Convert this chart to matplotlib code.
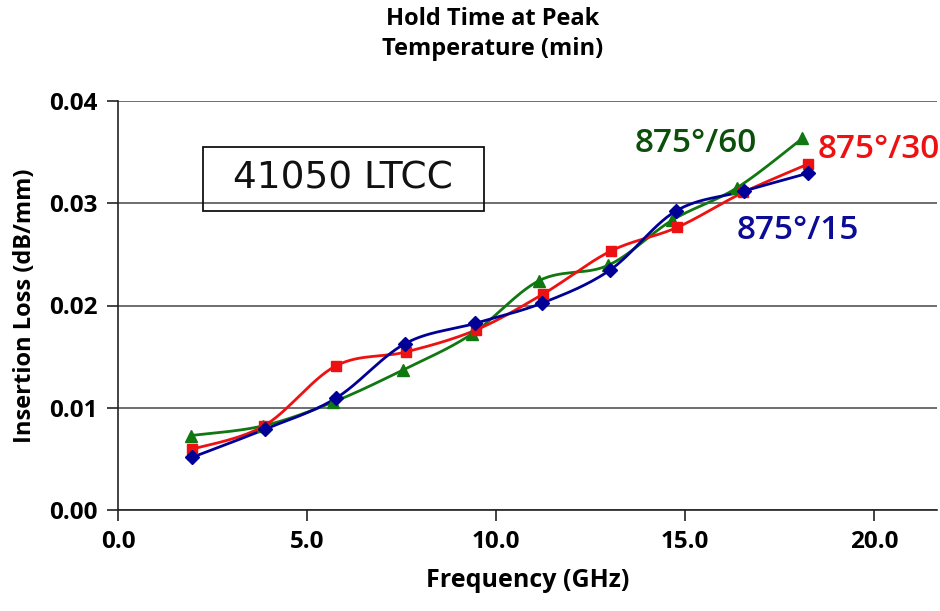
import numpy as np
import matplotlib
matplotlib.use("Agg")
import matplotlib.pyplot as plt
from matplotlib.patches import Rectangle

# ---- data ----
freq_15 = [1.94, 3.87, 5.75, 7.59, 9.44, 11.22, 13.01, 14.75, 16.55, 18.24]
loss_15 = [0.0051, 0.00786, 0.0109, 0.01627, 0.01825, 0.02025, 0.02348, 0.02926, 0.03122, 0.03296]
freq_30 = [1.94, 3.85, 5.75, 7.60, 9.46, 11.24, 13.03, 14.78, 16.53, 18.25]
loss_30 = [0.0059, 0.00819, 0.01407, 0.01544, 0.0176, 0.02113, 0.02534, 0.02765, 0.03108, 0.03387]
freq_60 = [1.92, 3.83, 5.69, 7.53, 9.35, 11.14, 12.96, 14.66, 16.36, 18.10]
loss_60 = [0.00725, 0.0082, 0.01054, 0.01368, 0.0172, 0.02245, 0.02394, 0.02838, 0.03152, 0.03639]

series_labels = ["875°/15", "875°/30", "875°/60"]
x_ticks = [0, 5, 10, 15, 20]
y_ticks = [0.00, 0.01, 0.02, 0.03, 0.04]
title = "Hold Time at Peak\nTemperature (min)"
xlabel = "Frequency (GHz)"
ylabel = "Insertion Loss (dB/mm)"
box_text = "41050 LTCC"


def smooth(x, y, n=30):
    """Excel-style smoothed line (Bezier with Catmull-Rom control points)."""
    p = np.column_stack([x, y]).astype(float)
    m = len(p)
    out = []
    for i in range(m - 1):
        p0 = p[i - 1] if i > 0 else p[i]
        p1 = p[i]
        p2 = p[i + 1]
        p3 = p[i + 2] if i + 2 < m else p[i + 1]
        c1 = p1 + (p2 - p0) / 6.0
        c2 = p2 - (p3 - p1) / 6.0
        t = np.linspace(0, 1, n)[:, None]
        seg = ((1 - t) ** 3) * p1 + 3 * ((1 - t) ** 2) * t * c1 + 3 * (1 - t) * t ** 2 * c2 + t ** 3 * p2
        out.append(seg if i == 0 else seg[1:])
    s = np.vstack(out)
    return s[:, 0], s[:, 1]


plt.rcParams['font.family'] = ['Open Sans', 'DejaVu Sans']

fig = plt.figure(figsize=(9.4, 6.11), dpi=100)
ax = fig.add_axes([0.1259, 0.1661, 0.9968 - 0.1259, 0.8339 - 0.1661])

blue = "#000096"
red = "#EE1111"
green = "#117711"

for fx, ly, col, mk, ms in [
    (freq_60, loss_60, green, "^", 8),
    (freq_30, loss_30, red, "s", 7),
    (freq_15, loss_15, blue, "D", 7.5),
]:
    sx, sy = smooth(fx, ly)
    ax.plot(sx, sy, color=col, lw=2, zorder=3, solid_capstyle="round")
    ax.plot(fx, ly, linestyle="none", marker=mk, ms=ms, color=col, zorder=4)

ax.set_xlim(0, 21.66)
ax.set_ylim(0, 0.04)
ax.set_xticks(x_ticks)
ax.set_xticklabels([f"{v:.1f}" for v in x_ticks])
ax.set_yticks(y_ticks)
ax.set_yticklabels([f"{v:.2f}" for v in y_ticks])
ax.yaxis.grid(True, color="#555555", lw=1.2)
ax.set_axisbelow(True)
for s in ["top", "right"]:
    ax.spines[s].set_visible(False)
for s in ["left", "bottom"]:
    ax.spines[s].set_color("#222222")
    ax.spines[s].set_linewidth(1.2)
ax.tick_params(axis="both", direction="out", length=8, width=1.2, color="#222222",
               labelsize=17.5, pad=7)
for lab in ax.get_xticklabels() + ax.get_yticklabels():
    lab.set_fontweight("bold")

ax.set_xlabel(xlabel, fontsize=18, fontweight="bold", labelpad=10)
ax.set_ylabel(ylabel, fontsize=17, fontweight="bold", labelpad=9)
fig.text(0.524, 0.988, title, ha="center", va="top", fontsize=17, fontweight="bold",
         linespacing=1.32)

# box label
ax.add_patch(Rectangle((2.233, 0.02929), 9.683 - 2.233, 0.03551 - 0.02929,
                       fill=False, edgecolor="#111111", lw=1.3, zorder=5))
ax.text(5.93, 0.03247, box_text, ha="center", va="center", fontsize=27, color="#111111",
        family=["DejaVu Sans"], fontweight="normal", zorder=6)

ax.text(15.28, 0.03593, series_labels[2], color="#0B4F0B", fontsize=24, ha="center",
        va="center", fontweight="semibold")
ax.text(18.51, 0.03525, series_labels[1], color="#EE1111", fontsize=24, ha="left",
        va="center", fontweight="semibold", clip_on=False)
ax.text(17.98, 0.0274, series_labels[0], color="#0B0B96", fontsize=24, ha="center",
        va="center", fontweight="semibold")

fig.savefig("out.png", dpi=100)
